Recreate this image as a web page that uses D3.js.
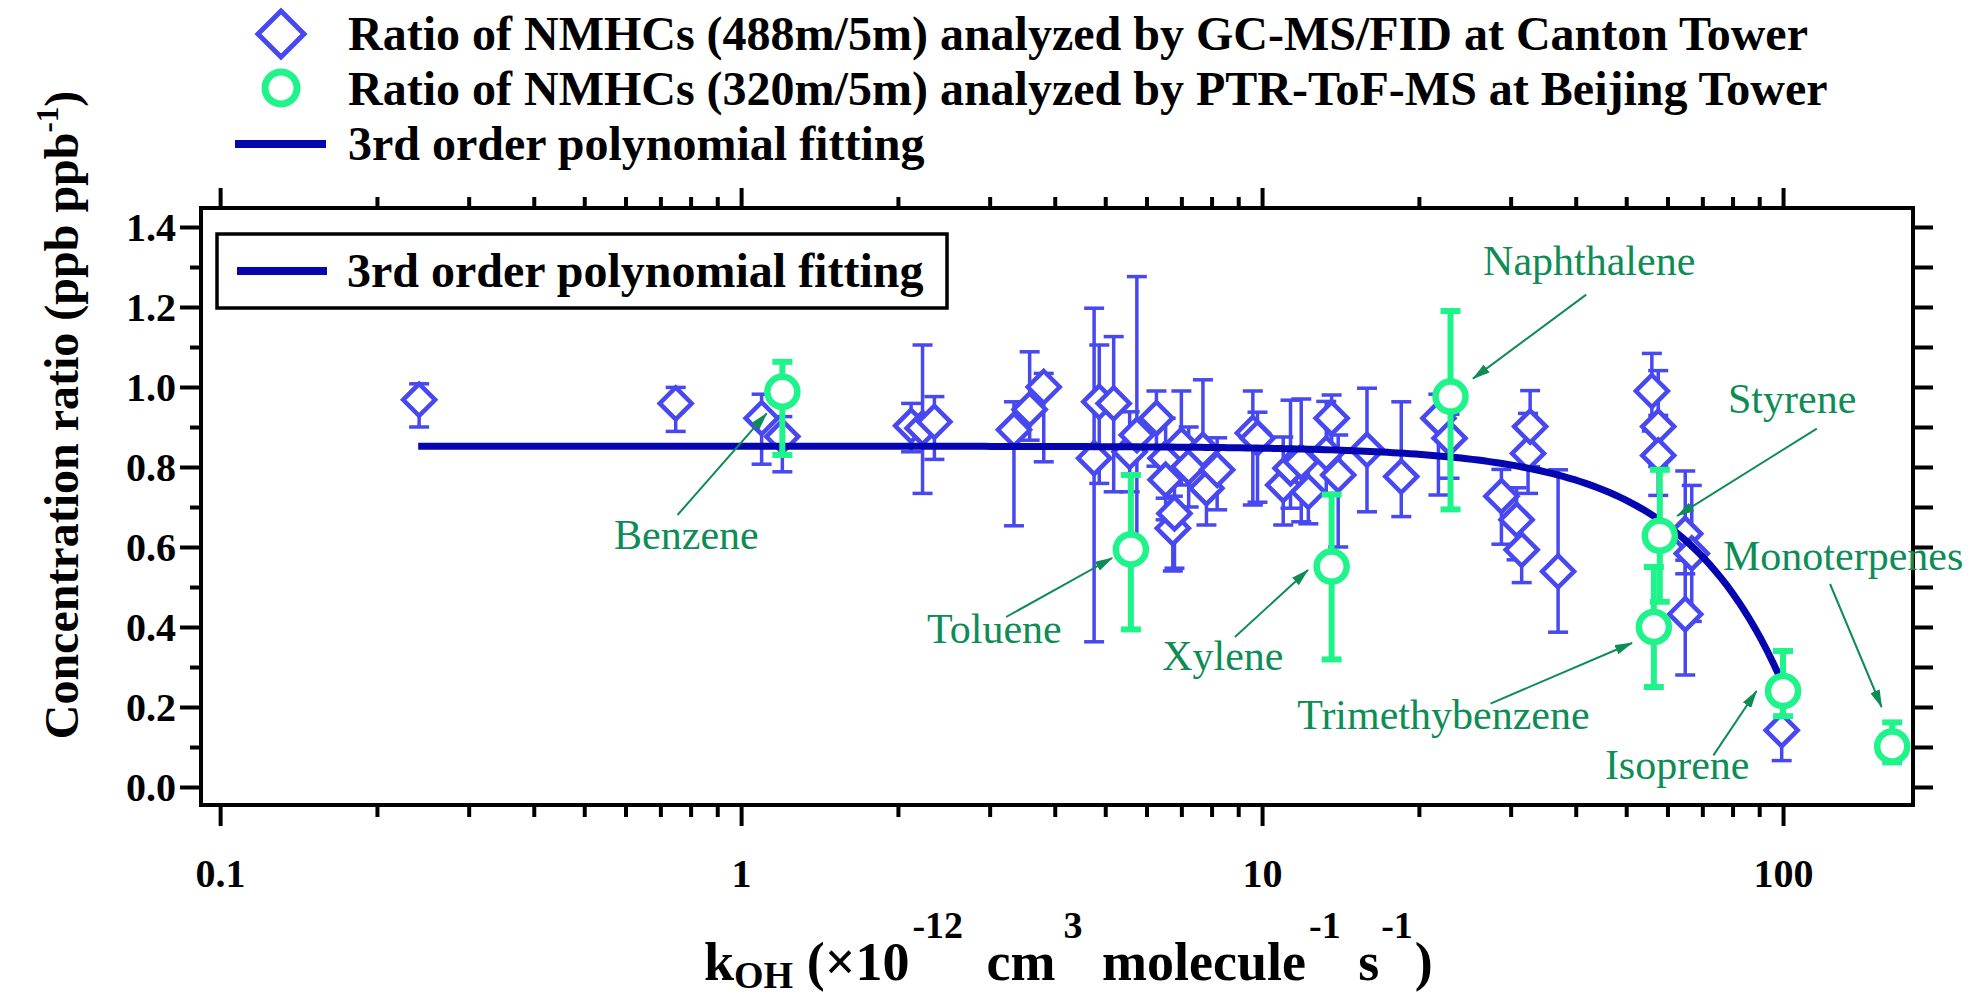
<!DOCTYPE html>
<html>
<head>
<meta charset="utf-8">
<script src="https://cdn.jsdelivr.net/npm/d3@7"></script>
<style>
  html, body { margin: 0; padding: 0; background: #ffffff; }
  svg { display: block; }
</style>
</head>
<body>
<svg id="chart" width="1974" height="999"></svg>
<script>
// ---- Canton Tower: ratio 488 m / 5 m (GC-MS/FID) ----
const cantonK = [0.241, 0.749, 1.095, 1.20, 2.12, 2.23, 2.35, 3.34, 3.58, 3.81,
  4.76, 4.87, 5.19, 5.57, 5.75, 6.27, 6.53, 6.53, 6.74, 6.79,
  7.0, 7.23, 7.7, 7.82, 8.2, 9.6, 9.8, 10.98, 11.34, 11.89,
  12.27, 13.28, 13.6, 14.0, 15.9, 18.5, 21.8, 22.9, 28.8, 30.8,
  31.5, 32.4, 32.7, 37.0, 56.0, 57.6, 57.6, 64.9, 66.8, 64.9, 99.4];
const cantonRatio = [0.968, 0.959, 0.922, 0.876, 0.903, 0.897, 0.913, 0.893, 0.944, 1.0,
  0.822, 0.963, 0.959, 0.838, 0.88, 0.922, 0.822, 0.768, 0.647, 0.684,
  0.855, 0.80, 0.843, 0.747, 0.793, 0.885, 0.872, 0.755, 0.797, 0.813,
  0.738, 0.834, 0.922, 0.78, 0.843, 0.776, 0.922, 0.872, 0.727, 0.668,
  0.593, 0.834, 0.901, 0.539, 0.99, 0.901, 0.829, 0.633, 0.584, 0.432, 0.142];
const cantonErrUp = [0.04, 0.04, 0.06, 0.05, 0.056, 0.208, 0.063, 0.07, 0.144, 0.034,
  0.375, 0.142, 0.167, 0.10, 0.396, 0.068, 0.10, 0.08, 0.08, 0.10,
  0.135, 0.10, 0.175, 0.09, 0.08, 0.105, 0.065, 0.12, 0.17, 0.157,
  0.10, 0.13, 0.058, 0.10, 0.154, 0.187, 0.06, 0.06, 0.067, 0.08,
  0.08, 0.10, 0.09, 0.254, 0.094, 0.14, 0.10, 0.157, 0.17, 0.135, 0.07];
const cantonErrDown = [0.068, 0.07, 0.115, 0.088, 0.065, 0.163, 0.094, 0.24, 0.077, 0.187,
  0.459, 0.204, 0.221, 0.10, 0.30, 0.12, 0.10, 0.10, 0.107, 0.137,
  0.10, 0.10, 0.10, 0.092, 0.10, 0.18, 0.16, 0.10, 0.10, 0.15,
  0.08, 0.10, 0.10, 0.18, 0.155, 0.10, 0.192, 0.10, 0.12, 0.10,
  0.082, 0.10, 0.10, 0.152, 0.10, 0.10, 0.10, 0.10, 0.17, 0.152, 0.076];

// ---- Beijing Tower: ratio 320 m / 5 m (PTR-ToF-MS) ----
const beijingSpecies = ["Benzene", "Toluene", "Xylene", "Naphthalene",
  "Trimethybenzene", "Styrene", "Isoprene", "Monoterpenes"];
const beijingK = [1.2, 5.6, 13.6, 23, 56.5, 58, 100, 162];
const beijingRatio = [0.988, 0.594, 0.551, 0.976, 0.40, 0.628, 0.24, 0.1015];
const beijingErrUp = [0.075, 0.186, 0.18, 0.214, 0.15, 0.165, 0.10, 0.06];
const beijingErrDown = [0.158, 0.20, 0.232, 0.282, 0.15, 0.165, 0.063, 0.04];

// ---- 3rd order polynomial fit: ratio = c0 + c1 k + c2 k^2 + c3 k^3 ----
const fitCoef = [0.852, 0, -4.86e-5, -1.10e-7];
const fitKRange = [0.24, 98];

// ---- axes ----
const xMajorTicks = [0.1, 1, 10, 100];
const xMinorTicks = [0.2, 0.3, 0.4, 0.5, 0.6, 0.7, 0.8, 0.9,
  2, 3, 4, 5, 6, 7, 8, 9, 20, 30, 40, 50, 60, 70, 80, 90];
const yMajorTicks = [0, 0.2, 0.4, 0.6, 0.8, 1.0, 1.2, 1.4];
const yMinorTicks = [0.1, 0.3, 0.5, 0.7, 0.9, 1.1, 1.3];

const legendLabels = [
  "Ratio of NMHCs (488m/5m) analyzed by GC-MS/FID at Canton Tower",
  "Ratio of NMHCs (320m/5m) analyzed by PTR-ToF-MS at Beijing Tower",
  "3rd order polynomial fitting"
];

// ---------------------------------------------------------------
const C_DIAMOND = "#4848F0";
const C_FIT = "#0606B0";
const C_CIRCLE = "#1EF48A";
const C_NOTE = "#0E8C55";
const FONT = "'Liberation Serif', 'Times New Roman', Times, serif";

const box = { left: 201, right: 1913, top: 208, bottom: 805 };
const svg = d3.select("#chart");

const x = d3.scaleLog().domain([0.0919, 177.6]).range([box.left, box.right]);
const y = d3.scaleLinear().domain([-0.045, 1.4475]).range([box.bottom, box.top]);

const canton = cantonK.map((k, i) => ({ k, v: cantonRatio[i], up: cantonErrUp[i], down: cantonErrDown[i] }));
const beijing = beijingK.map((k, i) => ({ name: beijingSpecies[i], k, v: beijingRatio[i], up: beijingErrUp[i], down: beijingErrDown[i] }));

// arrow head for the species call-outs
svg.append("defs").append("marker")
  .attr("id", "arrowHead")
  .attr("viewBox", "0 0 18 10")
  .attr("refX", 17).attr("refY", 5)
  .attr("markerWidth", 18).attr("markerHeight", 10)
  .attr("markerUnits", "userSpaceOnUse")
  .attr("orient", "auto")
  .append("path").attr("d", "M0,0 L18,5 L0,10 Z").attr("fill", C_NOTE);

// ---- axes with ticks on all four sides ----
function tidyAxis(g) {
  g.select(".domain").remove();
  g.selectAll(".tick line").attr("stroke", "#000").attr("stroke-width", 4);
  g.selectAll("text").attr("font-family", FONT).attr("font-weight", "bold")
    .attr("font-size", 40).attr("fill", "#000");
}
const fmtX = d => (d < 1 ? d3.format(".1f")(d) : d3.format("d")(d));

svg.append("g").attr("transform", `translate(0,${box.bottom})`)
  .call(d3.axisBottom(x).tickValues(xMinorTicks).tickSize(12).tickFormat(""))
  .call(tidyAxis);
svg.append("g").attr("transform", `translate(0,${box.bottom})`)
  .call(d3.axisBottom(x).tickValues(xMajorTicks).tickSize(21).tickFormat(fmtX))
  .call(tidyAxis)
  .call(g => g.selectAll("text").attr("y", 82).attr("dy", null));

svg.append("g").attr("transform", `translate(0,${box.top})`)
  .call(d3.axisTop(x).tickValues(xMinorTicks).tickSize(11).tickFormat(""))
  .call(tidyAxis);
svg.append("g").attr("transform", `translate(0,${box.top})`)
  .call(d3.axisTop(x).tickValues(xMajorTicks).tickSize(20).tickFormat(""))
  .call(tidyAxis);

svg.append("g").attr("transform", `translate(${box.left},0)`)
  .call(d3.axisLeft(y).tickValues(yMinorTicks).tickSize(11).tickFormat(""))
  .call(tidyAxis);
svg.append("g").attr("transform", `translate(${box.left},0)`)
  .call(d3.axisLeft(y).tickValues(yMajorTicks).tickSize(21).tickPadding(4).tickFormat(d3.format(".1f")))
  .call(tidyAxis)
  .call(g => g.selectAll("text").attr("dy", "0.33em"));

svg.append("g").attr("transform", `translate(${box.right},0)`)
  .call(d3.axisRight(y).tickValues(yMajorTicks.concat(yMinorTicks)).tickSize(20).tickFormat(""))
  .call(tidyAxis);

svg.append("rect")
  .attr("x", box.left).attr("y", box.top)
  .attr("width", box.right - box.left).attr("height", box.bottom - box.top)
  .attr("fill", "none").attr("stroke", "#000").attr("stroke-width", 4);

// ---- axis titles ----
const yTitle = svg.append("text")
  .attr("transform", "translate(78,415) rotate(-90)")
  .attr("text-anchor", "middle")
  .attr("font-family", FONT).attr("font-weight", "bold").attr("font-size", 48);
yTitle.append("tspan").text("Concentration ratio (ppb ppb");
yTitle.append("tspan").attr("font-size", 31).attr("dy", -20).text("-1");
yTitle.append("tspan").attr("dy", 20).text(")");

// k_OH (×10^-12 cm^3 molecule^-1 s^-1); [text, size, baseline offset, extra gap]
const xTitle = svg.append("text")
  .attr("x", 704).attr("y", 980)
  .attr("font-family", FONT).attr("font-weight", "bold").attr("font-size", 54);
const xParts = [
  ["k", 54, 0, 0], ["OH", 38, 8, 0], [" (×10", 54, 0, 0], ["-12", 38, -42, 3],
  [" cm", 54, 0, 10], ["3", 38, -42, 8], [" molecule", 54, 0, 6], ["-1", 38, -42, 3],
  [" s", 54, 0, 4], ["-1", 38, -42, 2], [")", 54, 0, 2]
];
let prevShift = 0;
xParts.forEach(([t, size, shift, gap]) => {
  xTitle.append("tspan")
    .attr("dy", shift - prevShift)
    .attr("dx", gap)
    .attr("font-size", size)
    .text(t);
  prevShift = shift;
});

// ---- Canton Tower series ----
const gCanton = svg.append("g");
const cBars = gCanton.append("g").selectAll("g").data(canton).join("g")
  .attr("stroke", C_DIAMOND).attr("stroke-width", 3.5);
cBars.append("line")
  .attr("x1", d => x(d.k)).attr("x2", d => x(d.k))
  .attr("y1", d => y(d.v + d.up)).attr("y2", d => y(d.v - d.down));
cBars.append("line")
  .attr("x1", d => x(d.k) - 10).attr("x2", d => x(d.k) + 10)
  .attr("y1", d => y(d.v + d.up)).attr("y2", d => y(d.v + d.up));
cBars.append("line")
  .attr("x1", d => x(d.k) - 10).attr("x2", d => x(d.k) + 10)
  .attr("y1", d => y(d.v - d.down)).attr("y2", d => y(d.v - d.down));

const diamondPath = h => `M0,${-h} L${h},0 L0,${h} L${-h},0 Z`;
gCanton.append("g").selectAll("path").data(canton).join("path")
  .attr("transform", d => `translate(${x(d.k)},${y(d.v)})`)
  .attr("d", diamondPath(16))
  .attr("fill", "#ffffff").attr("stroke", C_DIAMOND).attr("stroke-width", 4.5)
  .attr("stroke-linejoin", "miter");

// ---- polynomial fit ----
const fitK = d3.range(0, 241).map(i => fitKRange[0] * Math.pow(fitKRange[1] / fitKRange[0], i / 240));
const poly = k => fitCoef[0] + fitCoef[1] * k + fitCoef[2] * k * k + fitCoef[3] * k * k * k;
svg.append("path")
  .datum(fitK)
  .attr("d", d3.line().x(k => x(k)).y(k => y(poly(k))))
  .attr("fill", "none").attr("stroke", C_FIT).attr("stroke-width", 7);

// ---- Beijing Tower series ----
const gBeijing = svg.append("g");
const bBars = gBeijing.append("g").selectAll("g").data(beijing).join("g")
  .attr("stroke", C_CIRCLE).attr("stroke-width", 6);
bBars.append("line")
  .attr("x1", d => x(d.k)).attr("x2", d => x(d.k))
  .attr("y1", d => y(d.v + d.up)).attr("y2", d => y(d.v - d.down));
bBars.append("line")
  .attr("x1", d => x(d.k) - 10).attr("x2", d => x(d.k) + 10)
  .attr("y1", d => y(d.v + d.up)).attr("y2", d => y(d.v + d.up));
bBars.append("line")
  .attr("x1", d => x(d.k) - 10).attr("x2", d => x(d.k) + 10)
  .attr("y1", d => y(d.v - d.down)).attr("y2", d => y(d.v - d.down));
gBeijing.append("g").selectAll("circle").data(beijing).join("circle")
  .attr("cx", d => x(d.k)).attr("cy", d => y(d.v)).attr("r", 15)
  .attr("fill", "#ffffff").attr("stroke", C_CIRCLE).attr("stroke-width", 6.5);

// ---- species call-outs (text anchor and arrow given in axis units) ----
const calloutLayout = {
  "Benzene":         { tx: 0.5705, ty: 0.595, from: [0.755, 0.68],  to: [1.12, 0.934] },
  "Toluene":         { tx: 2.275,  ty: 0.36,  from: [3.226, 0.425], to: [5.156, 0.5725] },
  "Xylene":          { tx: 6.43,   ty: 0.2925, from: [8.87, 0.375], to: [12.25, 0.5425] },
  "Naphthalene":     { tx: 26.56,  ty: 1.28,  from: [41.9, 1.231],  to: [25.4, 1.021] },
  "Trimethybenzene": { tx: 11.68,  ty: 0.146, from: [27.45, 0.2085], to: [51.3, 0.36] },
  "Styrene":         { tx: 78.4,   ty: 0.936, from: [116.1, 0.896], to: [62.6, 0.6775] },
  "Isoprene":        { tx: 45.5,   ty: 0.021, from: [73.5, 0.079],  to: [88.94, 0.24] },
  "Monoterpenes":    { tx: 76.7,   ty: 0.5435, from: [123.1, 0.5075], to: [154.6, 0.2] }
};
const gNotes = svg.append("g");
beijing.forEach(d => {
  const L = calloutLayout[d.name];
  gNotes.append("line")
    .attr("x1", x(L.from[0])).attr("y1", y(L.from[1]))
    .attr("x2", x(L.to[0])).attr("y2", y(L.to[1]))
    .attr("stroke", C_NOTE).attr("stroke-width", 2)
    .attr("marker-end", "url(#arrowHead)");
  gNotes.append("text")
    .attr("x", x(L.tx)).attr("y", y(L.ty))
    .attr("font-family", FONT).attr("font-size", 42).attr("fill", C_NOTE)
    .text(d.name);
});

// ---- inner legend box ----
const gBox = svg.append("g");
gBox.append("rect").attr("x", 217).attr("y", 234).attr("width", 730).attr("height", 74)
  .attr("fill", "#ffffff").attr("stroke", "#000").attr("stroke-width", 3.5);
gBox.append("line").attr("x1", 237).attr("x2", 327).attr("y1", 271).attr("y2", 271)
  .attr("stroke", C_FIT).attr("stroke-width", 8);
gBox.append("text").attr("x", 347).attr("y", 287)
  .attr("font-family", FONT).attr("font-weight", "bold").attr("font-size", 48)
  .text(legendLabels[2]);

// ---- legend above the plot ----
const gLeg = svg.append("g");
const rowBase = [50, 105, 160];
gLeg.append("path").attr("transform", `translate(281,${rowBase[0] - 16})`)
  .attr("d", diamondPath(23)).attr("fill", "#ffffff")
  .attr("stroke", C_DIAMOND).attr("stroke-width", 5);
gLeg.append("circle").attr("cx", 281).attr("cy", rowBase[1] - 17).attr("r", 16)
  .attr("fill", "#ffffff").attr("stroke", C_CIRCLE).attr("stroke-width", 7);
gLeg.append("line").attr("x1", 235).attr("x2", 326)
  .attr("y1", rowBase[2] - 16).attr("y2", rowBase[2] - 16)
  .attr("stroke", C_FIT).attr("stroke-width", 8);
legendLabels.forEach((t, i) => {
  gLeg.append("text").attr("x", 348).attr("y", rowBase[i])
    .attr("font-family", FONT).attr("font-weight", "bold").attr("font-size", 48)
    .text(t);
});
</script>
</body>
</html>
